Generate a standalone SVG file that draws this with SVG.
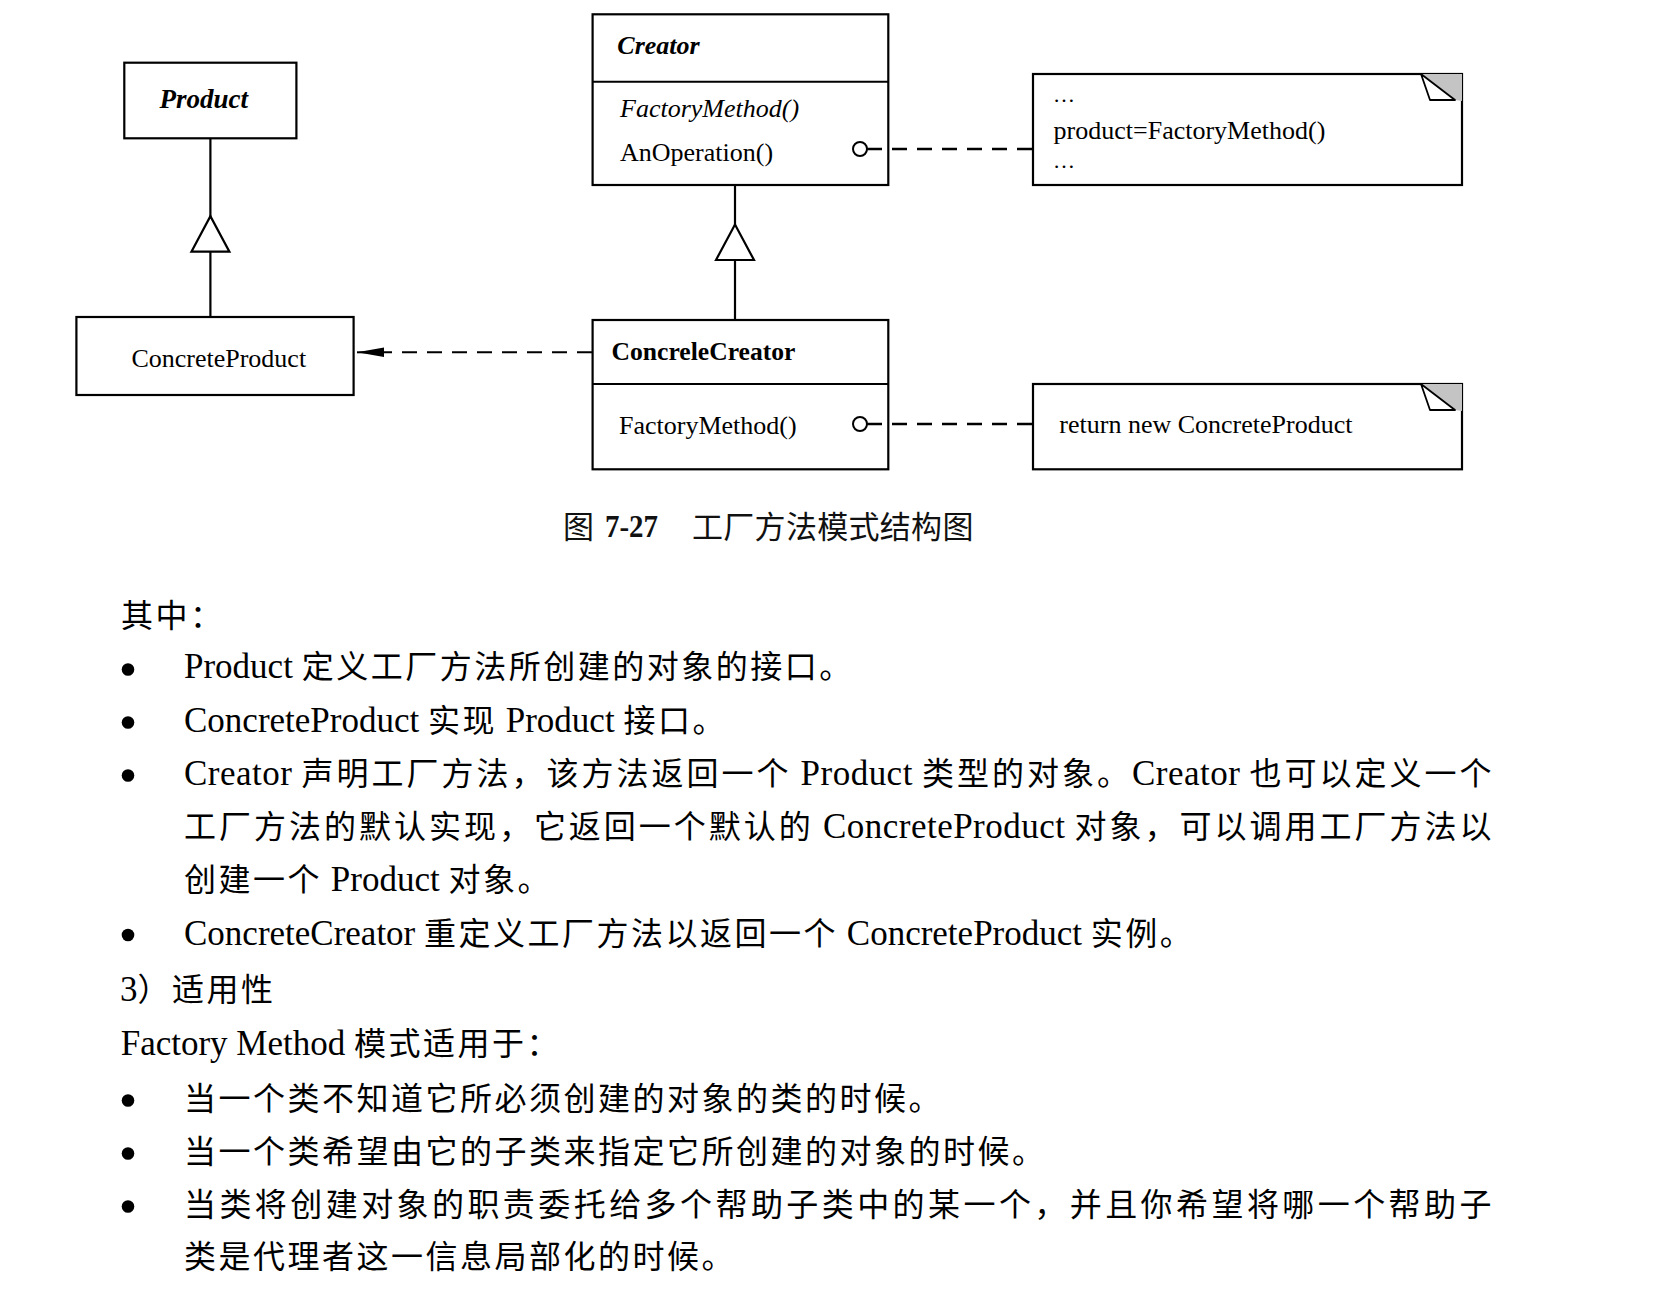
<svg xmlns="http://www.w3.org/2000/svg" width="1656" height="1289" viewBox="0 0 1656 1289">
<style>
.box{fill:#fff;stroke:#000;stroke-width:2.2}
.sep{stroke:#000;stroke-width:2}
.dg{font-family:"Liberation Serif","Times New Roman",serif;font-size:26px;fill:#000}
.bi{font-weight:bold;font-style:italic}
.it{font-style:italic}
.bd{font-weight:bold}
.gen{fill:none;stroke:#000;stroke-width:2.2;marker-mid:url(#gen)}
.dash{fill:none;stroke:#000;stroke-width:2.4;stroke-dasharray:15 10}
.pin{fill:#fff;stroke:#000;stroke-width:2}
.body{font-family:"Liberation Serif","Noto Sans CJK SC",serif;font-size:35px;fill:#000}
.cj{font-family:"Noto Sans CJK SC",sans-serif;font-size:32px;letter-spacing:2.5px}
.cap{font-family:"Noto Sans CJK SC",sans-serif;font-size:31px;fill:#111}
.bul{fill:#000}
</style>
<defs>
<marker id="gen" markerUnits="userSpaceOnUse" orient="auto" overflow="visible" refX="0" refY="0" markerWidth="40" markerHeight="40">
<path d="M0,-19 L35.5,0 L0,19 Z" fill="#fff" stroke="#000" stroke-width="2.2"/>
</marker>
<marker id="arrow" markerUnits="userSpaceOnUse" orient="auto" overflow="visible" refX="27" refY="0" markerWidth="30" markerHeight="12">
<path d="M0,-4.8 L27,0 L0,4.8 Z" fill="#000"/>
</marker>
<g id="fold">
<polygon points="-41,0 0,0 0,27 -7,26" fill="#c4c4c4"/>
<polygon points="-41,0 -32,26 -7,26" fill="#fff" stroke="#000" stroke-width="1.8" stroke-linejoin="round"/>
</g>
</defs>
<rect width="1656" height="1289" fill="#fff"/>

<g id="product">
<rect class="box" x="124.3" y="62.7" width="172.1" height="75.6"/>
<text class="dg bi" x="159.5" y="108.3" style="font-size:27px">Product</text>
</g>

<g id="concreteproduct">
<rect class="box" x="76.4" y="317" width="277.2" height="78"/>
<text class="dg" x="131.4" y="366.7">ConcreteProduct</text>
</g>

<g id="creator">
<rect class="box" x="592.6" y="14.3" width="295.7" height="170.7"/>
<line class="sep" x1="592.6" y1="81.7" x2="888.3" y2="81.7"/>
<text class="dg bi" x="617.3" y="54">Creator</text>
<text class="dg it" x="620" y="116.5">FactoryMethod()</text>
<text class="dg" x="620" y="160.5">AnOperation()</text>
<circle class="pin" cx="860" cy="149" r="7"/>
</g>

<g id="concretecreator">
<rect class="box" x="592.6" y="320" width="295.7" height="149.3"/>
<line class="sep" x1="592.6" y1="384" x2="888.3" y2="384"/>
<text class="dg bd" x="611.6" y="360" style="font-size:25.6px">ConcreleCreator</text>
<text class="dg" x="619" y="434">FactoryMethod()</text>
<circle class="pin" cx="860" cy="424" r="7"/>
</g>

<g id="note1">
<rect class="box" x="1033" y="74" width="429" height="111"/>
<use href="#fold" x="1462" y="74"/>
<text class="dg" x="1053" y="102" style="font-size:22px">…</text>
<text class="dg" x="1053.6" y="139">product=FactoryMethod()</text>
<text class="dg" x="1053" y="168" style="font-size:22px">…</text>
</g>

<g id="note2">
<rect class="box" x="1033" y="384" width="429" height="85.3"/>
<use href="#fold" x="1462" y="384"/>
<text class="dg" x="1059.3" y="433">return new ConcreteProduct</text>
</g>

<g id="connectors">
<path class="gen" d="M210.4,317 V251.7 V138.3"/>
<path class="gen" d="M735,320 V260 V185"/>
<path class="dash" d="M592,352.3 H370" style="stroke-width:2"/>
<path d="M372,352.3 H357" stroke="#000" stroke-width="2" marker-end="url(#arrow)"/>
<path class="dash" d="M867,149 H1033"/>
<path class="dash" d="M867,424 H1033"/>
</g>

<g id="caption">
<text class="cap" x="563" y="538">图</text>
<text x="605" y="537" font-family="Liberation Serif, serif" font-weight="bold" font-size="31" textLength="53" lengthAdjust="spacingAndGlyphs" fill="#111">7-27</text>
<text class="cap" x="692" y="538" style="letter-spacing:0.3px">工厂方法模式结构图</text>
</g>

<g id="body">
<text class="body" x="121" y="626.5"><tspan class="cj">其中：</tspan></text>

<circle class="bul" cx="128" cy="669.5" r="6.3"/>
<text class="body" x="184" y="678.3">Product <tspan class="cj">定义工厂方法所创建的对象的接口。</tspan></text>

<circle class="bul" cx="128" cy="722.5" r="6.3"/>
<text class="body" x="184" y="731.5">ConcreteProduct <tspan class="cj">实现</tspan> Product <tspan class="cj">接口。</tspan></text>

<circle class="bul" cx="128" cy="775.5" r="6.3"/>
<text class="body" x="184" y="784.8" textLength="1310" lengthAdjust="spacing">Creator <tspan class="cj">声明工厂方法，该方法返回一个</tspan> Product <tspan class="cj">类型的对象。</tspan>Creator <tspan class="cj">也可以定义一个</tspan></text>

<text class="body" x="184" y="838" textLength="1310" lengthAdjust="spacing"><tspan class="cj">工厂方法的默认实现，它返回一个默认的</tspan> ConcreteProduct <tspan class="cj">对象，可以调用工厂方法以</tspan></text>

<text class="body" x="184" y="891.3"><tspan class="cj">创建一个</tspan> Product <tspan class="cj">对象。</tspan></text>

<circle class="bul" cx="128" cy="935" r="6.3"/>
<text class="body" x="184" y="944.6">ConcreteCreator <tspan class="cj">重定义工厂方法以返回一个</tspan> ConcreteProduct <tspan class="cj">实例。</tspan></text>

<text class="body" x="120" y="1001">3<tspan class="cj">）适用性</tspan></text>

<text class="body" x="120.7" y="1055">Factory Method <tspan class="cj">模式适用于：</tspan></text>

<circle class="bul" cx="128" cy="1100.5" r="6.3"/>
<text class="body" x="184" y="1110"><tspan class="cj">当一个类不知道它所必须创建的对象的类的时候。</tspan></text>

<circle class="bul" cx="128" cy="1153.5" r="6.3"/>
<text class="body" x="184" y="1163"><tspan class="cj">当一个类希望由它的子类来指定它所创建的对象的时候。</tspan></text>

<circle class="bul" cx="128" cy="1206.5" r="6.3"/>
<text class="body" x="184" y="1216" textLength="1310" lengthAdjust="spacing"><tspan class="cj">当类将创建对象的职责委托给多个帮助子类中的某一个，并且你希望将哪一个帮助子</tspan></text>

<text class="body" x="184" y="1268"><tspan class="cj">类是代理者这一信息局部化的时候。</tspan></text>
</g>
</svg>
